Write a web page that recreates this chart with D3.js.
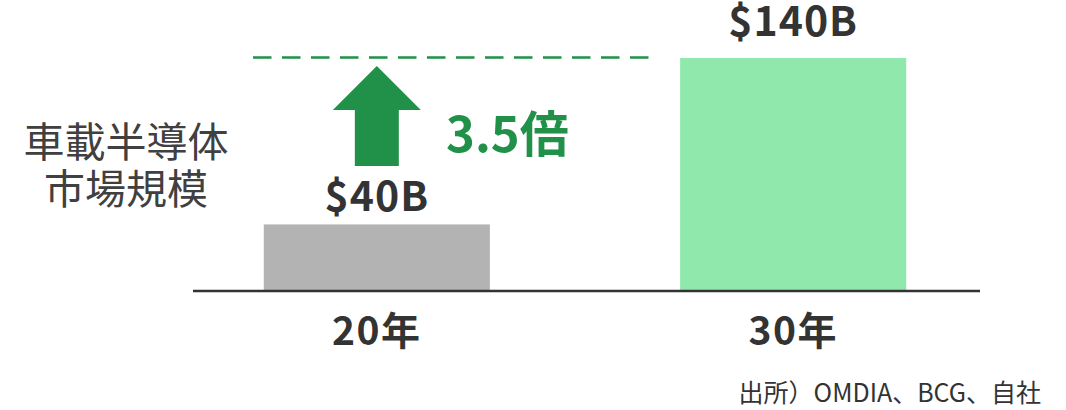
<!DOCTYPE html>
<html>
<head>
<meta charset="utf-8">
<script src="https://cdn.jsdelivr.net/npm/d3@7"></script>
<style>
  body { margin: 0; background: #fff; }
  text { font-family: "Noto Sans CJK JP", "Noto Sans", sans-serif; }
</style>
</head>
<body>
<div id="chart"></div>
<script>
// data
var years = ["20年", "30年"];
var market = [40, 140];            // $B
var valueLabels = ["$40B", "$140B"];
var barColors = ["#b3b3b3", "#90e8ad"];
var growthLabel = "3.5倍";
var yTitle = ["車載半導体", "市場規模"];
var source = "出所）OMDIA、BCG、自社";

var W = 1066, H = 410;
var svg = d3.select("#chart").append("svg")
    .attr("width", W).attr("height", H);

var x = d3.scaleBand().domain(years)
    .range([193, 977]).paddingInner(0.457).paddingOuter(0.17);
var y = d3.scaleLinear().domain([0, 140]).range([291, 58]);

// bars
svg.selectAll("rect.bar").data(years).enter().append("rect")
    .attr("class", "bar")
    .attr("x", function(d){ return x(d); })
    .attr("width", x.bandwidth())
    .attr("y", function(d, i){ return y(market[i]); })
    .attr("height", function(d, i){ return y(0) - y(market[i]); })
    .attr("fill", function(d, i){ return barColors[i]; });

// baseline
svg.append("line")
    .attr("x1", 193).attr("x2", 980)
    .attr("y1", y(0)).attr("y2", y(0))
    .attr("stroke", "#333").attr("stroke-width", 2.5);

// value labels
var labelGap = [13, 22];
svg.selectAll("text.val").data(years).enter().append("text")
    .attr("class", "val")
    .attr("x", function(d){ return x(d) + x.bandwidth() / 2; })
    .attr("y", function(d, i){ return y(market[i]) - labelGap[i]; })
    .attr("text-anchor", "middle")
    .attr("font-size", 41).attr("font-weight", "bold")
    .attr("letter-spacing", 1)
    .attr("fill", "#333")
    .text(function(d, i){ return valueLabels[i]; });

// category labels
svg.selectAll("text.cat").data(years).enter().append("text")
    .attr("class", "cat")
    .attr("x", function(d){ return x(d) + x.bandwidth() / 2; })
    .attr("y", 345)
    .attr("text-anchor", "middle")
    .attr("font-size", 39).attr("font-weight", "bold")
    .attr("letter-spacing", 1.5)
    .attr("fill", "#333")
    .text(function(d){ return d; });

// dashed line at the 30年 level
var green = "#21914a";
svg.append("line")
    .attr("x1", 253).attr("x2", 656)
    .attr("y1", y(market[1]) - 0.5).attr("y2", y(market[1]) - 0.5)
    .attr("stroke", green).attr("stroke-width", 2.5)
    .attr("stroke-dasharray", "18.5,10.5");

// up arrow over the first bar
var cx = x(years[0]) + x.bandwidth() / 2;
var tip = 66, headBase = 110, bottom = 166;
svg.append("path")
    .attr("d", [
        "M", cx, tip,
        "L", cx + 44, headBase,
        "L", cx + 22, headBase,
        "L", cx + 22, bottom,
        "L", cx - 22, bottom,
        "L", cx - 22, headBase,
        "L", cx - 44, headBase, "Z"].join(" "))
    .attr("fill", green);

svg.append("text")
    .attr("x", 446).attr("y", 152)
    .attr("font-size", 49).attr("font-weight", "bold")
    .attr("fill", green)
    .text(growthLabel);

// y title
svg.selectAll("text.ytitle").data(yTitle).enter().append("text")
    .attr("class", "ytitle")
    .attr("x", 126)
    .attr("y", function(d, i){ return 157 + i * 47; })
    .attr("text-anchor", "middle")
    .attr("font-size", 41)
    .attr("fill", "#404040")
    .text(function(d){ return d; });

// source
svg.append("text")
    .attr("x", 1041).attr("y", 402)
    .attr("text-anchor", "end")
    .attr("font-size", 25)
    .attr("fill", "#333")
    .text(source);
</script>
</body>
</html>
